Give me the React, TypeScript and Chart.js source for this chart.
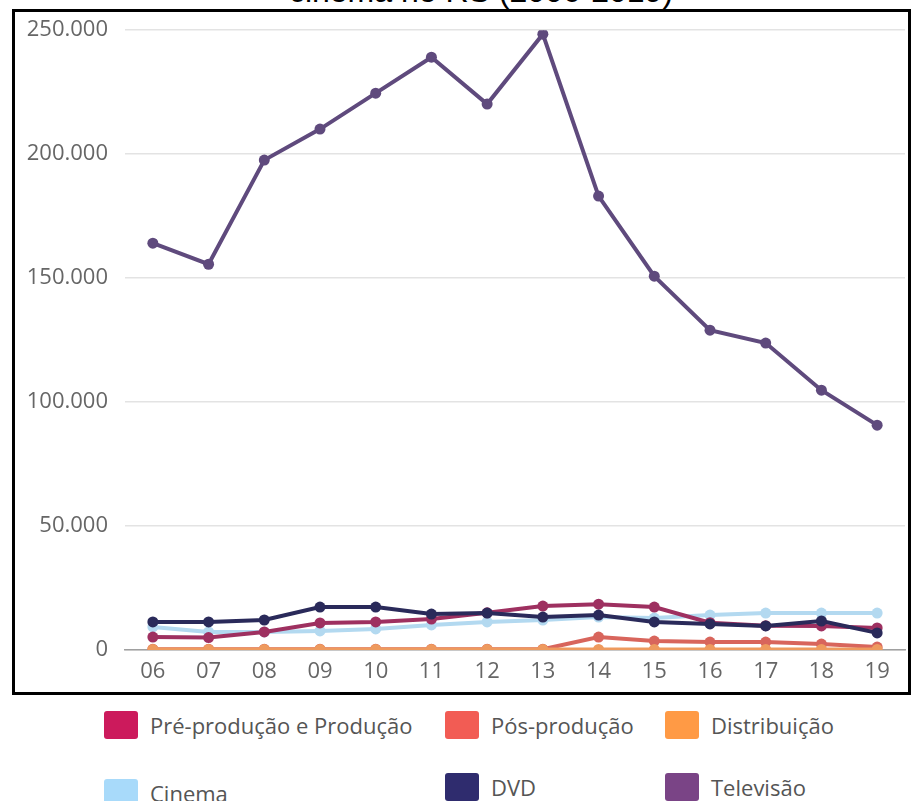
import React, { useEffect, useRef } from "react";
import { Chart, registerables } from "chart.js";

Chart.register(...registerables);

const years = ["06", "07", "08", "09", "10", "11", "12", "13", "14", "15", "16", "17", "18", "19"];

const preProducao = [5200, 5000, 7300, 10900, 11300, 12500, 15000, 17700, 18500, 17300, 11000, 9800, 9700, 8900];
const posProducao = [300, 300, 300, 300, 300, 300, 300, 300, 5200, 3600, 3200, 3200, 2400, 1200];
const distribuicao = [200, 200, 200, 200, 200, 200, 200, 200, 200, 200, 200, 200, 200, 200];
const cinema = [9300, 7300, 7300, 7700, 8500, 10100, 11300, 12100, 13300, 12900, 14100, 14900, 14900, 14900];
const dvd = [11300, 11300, 12100, 17300, 17300, 14500, 14900, 13300, 14100, 11300, 10500, 9700, 11700, 6900];
const televisao = [164100, 155600, 197600, 210100, 224600, 239100, 220200, 248400, 183100, 150800, 129000, 123800, 104800, 90700];

const seriesNames = ["Pré-produção e Produção", "Pós-produção", "Distribuição", "Cinema", "DVD", "Televisão"];
const legendColors = ["#CC1A5C", "#F25C54", "#FF9A45", "#A8DAFA", "#2F2C6E", "#7A4486"];
const lineColors = ["#9E3060", "#D8655C", "#EE9A5E", "#B3D9F0", "#2A2A5A", "#5F4A7D"];
const seriesData = [preProducao, posProducao, distribuicao, cinema, dvd, televisao];

const titleText = "cinema no RS (2006-2019)";

const legendPos = [
  { left: 104, top: 710 },
  { left: 445, top: 710 },
  { left: 665, top: 710 },
  { left: 104, top: 778 },
  { left: 445, top: 772 },
  { left: 665, top: 772 },
];

function fmt(v: number): string {
  const s = Math.round(v).toString();
  return s.replace(/\B(?=(\d{3})+(?!\d))/g, ".");
}

export default function App() {
  const ref = useRef<HTMLCanvasElement | null>(null);

  useEffect(() => {
    if (!ref.current) return;
    const drawOrder = [5, 4, 0, 3, 2, 1];
    const datasets = drawOrder.map((i) => ({
      label: seriesNames[i],
      data: seriesData[i],
      borderColor: lineColors[i],
      backgroundColor: lineColors[i],
      pointBackgroundColor: lineColors[i],
      pointBorderWidth: 0,
      pointRadius: 5.5,
      borderWidth: 4,
      tension: 0,
      fill: false,
    }));
    const chart = new Chart(ref.current, {
      type: "line",
      data: { labels: years, datasets },
      options: {
        animation: false,
        responsive: false,
        layout: { padding: { left: 0, right: 9, top: 30, bottom: 0 } },
        plugins: { legend: { display: false }, tooltip: { enabled: false }, title: { display: false } },
        scales: {
          x: {
            offset: true,
            grid: { display: false, drawTicks: false },
            border: { display: true, color: "#a0a0a0", width: 1.5 },
            ticks: {
              padding: 9,
              color: "#666",
              font: { family: "'Open Sans'", size: 22 },
              maxRotation: 0,
            },
            afterFit: (axis: any) => {
              axis.height = 50;
            },
          },
          y: {
            min: 0,
            max: 250000,
            grid: { color: "#e3e3e3", lineWidth: 1.5, drawTicks: false },
            border: { display: false },
            ticks: {
              stepSize: 50000,
              padding: 17,
              color: "#666",
              font: { family: "'Open Sans'", size: 22 },
              callback: (v: any) => fmt(Number(v)),
            },
            afterFit: (axis: any) => {
              axis.width = 125;
            },
          },
        },
      },
    });
    return () => chart.destroy();
  }, []);

  return (
    <div
      style={{
        position: "fixed",
        left: 0,
        top: 0,
        width: 914,
        height: 801,
        background: "#fff",
        overflow: "hidden",
      }}
    >
      <div
        style={{
          position: "absolute",
          left: 0,
          width: 962,
          top: -25,
          textAlign: "center",
          fontFamily: "'Liberation Sans', Arial, sans-serif",
          fontSize: 32,
          lineHeight: "32px",
          color: "#000",
          whiteSpace: "nowrap",
        }}
      >
        {titleText}
      </div>
      <canvas ref={ref} width={914} height={700} style={{ position: "absolute", left: 0, top: 0, width: 914, height: 700 }} />
      <div
        style={{
          position: "absolute",
          left: 12,
          top: 9,
          width: 899,
          height: 686,
          border: "3px solid #000",
          boxSizing: "border-box",
          pointerEvents: "none",
        }}
      />
      {seriesNames.map((name, i) => (
        <div
          key={name}
          style={{
            position: "absolute",
            left: legendPos[i].left,
            top: legendPos[i].top,
            display: "flex",
            alignItems: "center",
            whiteSpace: "nowrap",
          }}
        >
          <div
            style={{
              width: 34,
              height: 28,
              borderRadius: 3,
              background: legendColors[i],
              marginRight: 12,
            }}
          />
          <span style={{ fontFamily: "'Open Sans'", fontSize: 22, color: "#555" }}>{name}</span>
        </div>
      ))}
    </div>
  );
}
